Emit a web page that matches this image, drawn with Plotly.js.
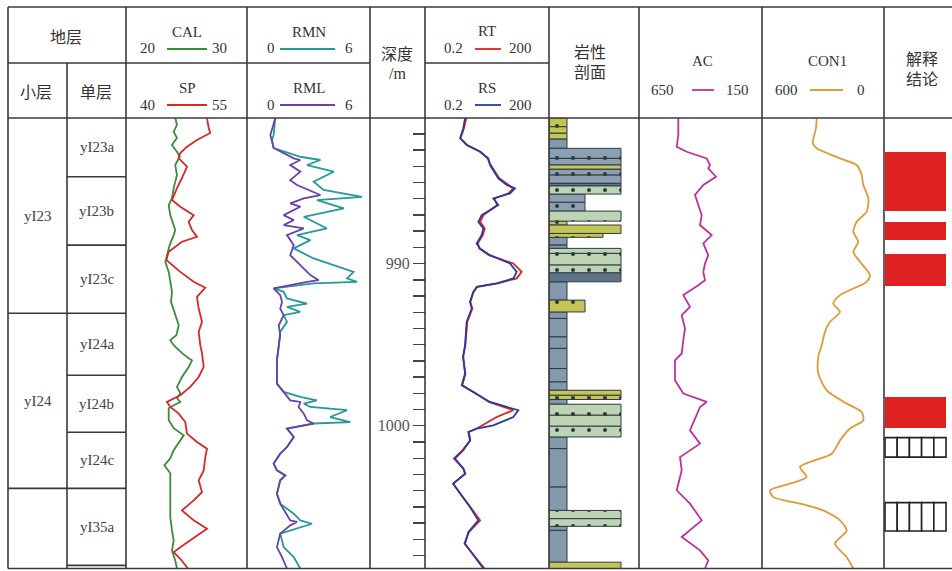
<!DOCTYPE html>
<html><head><meta charset="utf-8">
<script src="https://cdn.plot.ly/plotly-3.0.1.min.js"></script>
<style>html,body{margin:0;padding:0;background:#fff}#chart{width:952px;height:571px}</style>
</head><body><div id="chart"></div>
<script>
// ---------------- DATA ----------------
const calDepth = [981.02,981.45,981.86,982.25,982.69,983.10,983.41,983.92,984.54,985.34,985.96,986.39,987.01,987.62,987.93,988.24,988.86,989.48,989.89,990.51,991.12,991.74,992.36,993.18,993.80,994.41,994.72,995.03,995.52,995.83,995.96,996.37,996.99,997.60,997.99,998.30,998.53,998.73,998.92,999.66,1000.15,1000.59,1000.90,1001.51,1002.01,1002.44,1002.93,1003.78,1004.60,1005.63,1006.45,1007.07,1007.69,1008.30,1008.80];
const calVal = [24.07,24.21,23.94,24.21,23.80,24.21,24.44,24.07,24.21,23.94,23.80,23.53,23.66,23.94,24.07,23.94,23.61,23.39,23.25,23.53,23.66,23.80,23.72,24.07,24.36,24.16,23.66,23.94,24.63,25.18,25.45,25.18,24.63,24.21,24.49,24.21,24.49,23.94,23.53,23.53,23.94,24.77,24.49,23.94,23.66,23.17,23.66,23.66,23.61,23.66,23.80,23.94,23.80,24.07,24.21];

const spDepth = [981.02,981.64,981.94,982.38,982.79,983.18,983.49,984.02,984.72,985.34,986.08,986.49,987.01,987.42,987.93,988.35,988.65,989.27,989.78,990.51,991.12,991.49,992.05,992.77,993.59,994.21,995.03,995.52,996.37,996.99,997.60,998.12,998.53,998.84,999.25,999.77,1000.48,1001.00,1001.41,1001.93,1002.75,1003.36,1004.09,1004.60,1005.22,1005.83,1006.35,1006.76,1007.27,1007.79,1008.20,1008.72,1008.80];
const spVal = [50.04,50.25,50.45,48.80,47.56,46.73,46.53,47.56,46.94,46.32,45.70,46.73,48.39,47.77,48.18,48.80,46.94,45.29,45.00,46.73,48.39,49.83,48.80,49.01,49.42,49.01,49.21,49.42,49.63,49.01,47.97,46.73,45.08,45.49,46.53,47.35,47.56,48.80,50.04,49.83,49.63,49.01,49.42,48.39,46.94,48.39,50.04,48.80,47.35,45.91,46.73,47.56,47.69];

const rmnDepth = [981.02,982.07,982.38,982.87,983.41,983.61,983.92,984.33,984.95,985.46,985.88,986.08,986.59,987.11,987.83,988.24,988.55,989.06,989.68,990.51,990.91,991.12,991.22,991.53,991.74,992.15,992.46,992.67,992.98,993.18,993.59,994.21,995.03,995.96,997.40,997.91,998.22,998.43,998.63,998.84,999.04,999.46,999.77,999.86,1000.17,1000.69,1001.31,1001.72,1002.33,1002.75,1003.06,1003.36,1004.19,1004.80,1005.42,1005.83,1006.04,1006.25,1006.65,1007.48,1008.10,1008.80];
const rmnVal = [1.38,1.30,1.22,1.30,2.60,3.58,2.93,4.23,3.25,3.74,5.61,3.41,4.72,2.77,3.90,2.44,3.09,2.28,3.25,5.20,4.88,5.37,3.25,1.30,1.79,1.95,2.93,1.95,2.60,1.79,1.95,1.62,1.55,1.46,1.46,1.79,2.60,3.41,2.77,3.09,4.88,4.06,5.04,3.25,1.95,2.28,1.95,1.62,1.30,1.46,1.87,1.62,1.46,1.62,2.28,2.60,3.17,2.60,1.62,1.79,2.28,2.60];

const rmlDepth = [981.02,982.07,982.87,983.51,983.61,983.92,984.33,984.85,985.15,985.77,985.98,986.28,986.49,987.01,987.32,987.62,987.83,988.24,988.86,989.48,990.09,990.71,991.02,991.12,991.53,991.94,992.36,992.77,993.18,993.80,994.41,995.03,995.96,997.40,997.91,998.43,998.53,998.84,999.25,999.66,999.86,1000.17,1000.69,1001.31,1001.72,1002.33,1002.75,1003.06,1003.36,1004.19,1004.80,1005.83,1005.93,1006.14,1006.65,1007.48,1008.10,1008.80];
const rmlVal = [1.38,1.14,1.30,2.28,2.60,2.11,2.60,2.11,2.44,3.58,2.77,2.11,2.60,1.79,2.28,1.79,2.77,1.95,2.28,2.11,2.60,3.09,3.50,2.93,1.30,1.62,1.71,1.62,1.79,1.55,1.62,1.55,1.46,1.46,1.79,2.11,2.60,2.52,2.77,2.93,3.25,1.95,2.28,1.95,1.62,1.30,1.46,1.87,1.62,1.46,1.62,2.11,2.44,2.11,1.62,1.46,1.71,1.95];

const resDepth = [981.02,981.65,982.27,982.69,983.10,983.51,983.92,984.23,984.74,985.15,985.36,985.67,985.98,986.39,986.70,987.01,987.42,987.83,988.24,988.75,989.06,989.48,989.99,990.51,990.91,991.22,991.43,991.74,992.36,992.77,993.59,995.03,995.75,996.78,997.50,997.91,998.53,998.84,999.04,999.46,999.97,1000.17,1000.38,1000.90,1001.51,1002.02,1002.64,1002.95,1003.57,1004.18,1005.01,1005.83,1006.56,1007.27,1007.99,1008.80];
const rtVal = [2.0,1.75,1.45,2.1,4.4,6.5,7.8,9.5,12.5,21,27,21,9.5,11.2,7.8,5.2,4.3,5.6,5.0,3.8,4.1,7.0,27.4,43.7,33.1,11.5,3.7,3.0,2.5,2.8,2.1,1.9,1.65,1.9,1.6,3.0,7.0,16,27.4,10.86,5.0,3.6,2.3,2.5,1.6,1.0,1.7,1.9,0.95,1.45,2.5,4.3,2.3,1.8,3.1,5.5];
const rsVal = [1.86,1.69,1.41,2.04,4.28,6.80,7.47,8.98,11.87,18.95,30.1,22.8,8.98,11.87,7.47,4.71,3.90,5.15,4.71,3.56,4.28,7.47,22.8,33.1,27.4,10.86,3.56,2.95,2.45,2.70,2.04,1.86,1.69,1.86,1.55,2.95,7.47,18.95,36.2,27.4,8.98,3.56,2.23,2.45,1.69,1.06,1.69,1.86,0.97,1.41,2.45,3.90,2.23,1.86,2.95,5.15];

const acDepth = [981.02,982.07,982.79,983.10,983.51,983.92,984.12,984.64,985.15,985.77,986.39,987.01,987.62,988.24,988.75,989.48,989.99,990.51,991.02,991.33,991.94,992.67,993.18,994.00,994.72,995.54,995.96,997.19,998.01,998.53,998.84,1000.28,1001.10,1001.93,1002.75,1003.98,1004.80,1005.83,1006.86,1007.68,1008.30,1008.80];
const acVal = [490.2,490.2,496.7,456.1,374.8,361.4,368.3,337.0,388.6,422.4,408.9,395.1,402.0,354.5,388.6,368.3,381.7,388.6,381.7,408.9,469.9,442.7,476.4,463.0,469.9,476.4,503.7,503.7,469.9,374.8,402.0,442.7,402.0,483.3,476.4,496.7,442.7,395.1,476.4,402.0,368.3,381.7];

const conDepth = [981.02,981.65,982.58,982.89,983.51,983.92,984.54,985.15,985.98,986.80,987.42,988.04,988.65,989.27,989.89,990.71,991.12,991.94,992.46,992.98,993.59,994.21,995.03,995.75,996.78,997.81,998.63,999.15,999.66,1000.17,1000.90,1001.72,1002.54,1003.16,1003.57,1003.98,1004.40,1004.80,1005.22,1005.83,1006.45,1007.27,1008.10,1008.80];
const conVal = [331.0,334.4,350.7,331.0,216.4,134.3,109.7,101.8,77.2,85.1,134.3,151.0,126.4,151.0,118.0,68.9,85.1,216.4,249.3,216.4,265.6,290.2,306.4,323.1,323.1,281.8,183.4,109.7,101.8,167.2,216.4,257.2,413.1,380.2,462.3,560.7,544.4,413.1,298.5,216.4,183.4,241.0,183.4,151.0];

// lithology: top depth, lithology code, grain class
const lithTop = [981.02,981.56,981.96,982.31,982.89,983.51,983.92,984.17,984.54,985.05,985.20,985.71,986.22,986.76,987.38,987.62,988.14,988.38,988.86,989.06,989.37,990.09,990.57,991.12,992.25,992.98,993.38,994.52,995.23,996.47,997.30,997.81,998.12,998.38,998.67,999.35,1000.03,1000.69,1001.41,1003.78,1005.22,1005.73,1006.20,1006.45,1008.41];
const lithBottomEnd = 1008.80;
const lithType = ['Y','Y','Y','M','B','B','Y','B','B','D','G','B','B','G','Y','Y','Y','M','M','G','G','G','D','M','Y','M','M','M','M','M','M','Y','Y','M','G','G','G','M','M','M','G','G','M','M','Y'];
const lithGrain = [1,1,1,1,4,4,4,4,4,4,4,2,2,4,1,4,3,1,1,4,4,4,4,1,2,1,1,1,1,1,1,4,4,1,4,4,4,1,1,1,4,4,1,1,4];

// interpretation
const interpTop = [983.10,987.42,989.43,998.22,1000.73,1004.74];
const interpBottom = [986.76,988.55,991.37,1000.11,1001.93,1006.49];
const interpType = ['A','A','A','A','B','B'];

// strata
const subNames = ['yI23','yI24',''];
const subTop = [981.02,993.06,1003.86];
const subBottom = [993.06,1003.86,1008.80];
const unitNames = ['yI23a','yI23b','yI23c','yI24a','yI24b','yI24c','yI35a',''];
const unitTop = [981.02,984.64,988.86,993.06,996.88,1000.40,1003.86,1008.61];
const unitBottom = [984.64,988.86,993.06,996.88,1000.40,1003.86,1008.61,1008.80];

const depthRange = [1008.80, 981.02];

// ---------------- LAYOUT HELPERS ----------------
const W = 952, H = 571;
const px = x => x / W, py = y => 1 - y / H;
const SERIF = '"Liberation Serif", "Times New Roman", serif';
const CJK = '"Liberation Serif", "Noto Sans CJK SC", serif';
const LC = '#3a3a3a';
const col = {
  cal:'#3c8c3c', sp:'#d62828', rmn:'#259a96', rml:'#6a40aa',
  rt:'#e42020', rs:'#2b3a9e', ac:'#c0309c', con:'#e09a38', red:'#de2222'
};
const tr = {cal:[126,247], rmn:[247,370], rt:[425,549], lith:[549,639], ac:[639,762], con:[762,884], interp:[884,952]};
const dom = k => [px(tr[k][0]), px(tr[k][1])];

const hidden = (k, extra) => Object.assign({domain: dom(k), anchor: 'y', visible: false, showgrid: false, zeroline: false, fixedrange: true}, extra);

const traces = [];
const line = (x, y, xa, c, extra) => Object.assign({type:'scatter', mode:'lines', x, y, xaxis:xa, yaxis:'y', line:{color:c, width:1.8}, hoverinfo:'skip', showlegend:false}, extra||{});
traces.push(line(calVal, calDepth, 'x', col.cal));
traces.push(line(spVal, spDepth, 'x2', col.sp));
traces.push(line(rmnVal, rmnDepth, 'x3', col.rmn));
traces.push(line(rmlVal, rmlDepth, 'x4', col.rml));
traces.push(line(rtVal, resDepth, 'x5', col.rt));
traces.push(line(rsVal, resDepth, 'x6', col.rs));
traces.push(line(acVal, acDepth, 'x8', col.ac));
traces.push(line(conVal, conDepth, 'x9', col.con, {line:{color:col.con, width:1.8, shape:'spline', smoothing:0.7}}));

// lithology bars
const lithStyle = {
  M:{c:'#8499ab', dots:false},
  B:{c:'#8ca0b1', dots:true},
  Y:{c:'#c3c654', dots:true},
  G:{c:'#bcd4b3', dots:true},
  D:{c:'#5f7587', dots:true}
};
Object.keys(lithStyle).forEach(t => {
  const ys=[], ws=[], xs=[];
  lithType.forEach((lt,i) => {
    if (lt !== t) return;
    const top = lithTop[i], bot = (i+1 < lithTop.length) ? lithTop[i+1] : lithBottomEnd;
    ys.push((top+bot)/2); ws.push(bot-top); xs.push(lithGrain[i]);
  });
  const st = lithStyle[t];
  const marker = {color: st.c, line:{color:'#2e3a44', width:1}};
  if (st.dots) marker.pattern = {shape:'.', bgcolor: st.c, fgcolor:'#2b3640', size:16, solidity:0.05, fillmode:'replace'};
  traces.push({type:'bar', orientation:'h', x:xs, y:ys, width:ws, base:0, xaxis:'x7', yaxis:'y', marker, hoverinfo:'skip', showlegend:false});
});

// interpretation bars
(function(){
  const ry=[], rw=[];
  const hy=[], hw=[], hb=[], hx=[];
  const start = 0.015, len = 0.897, cells = 5;
  interpType.forEach((t,i) => {
    const mid = (interpTop[i]+interpBottom[i])/2, th = interpBottom[i]-interpTop[i];
    if (t === 'A') { ry.push(mid); rw.push(th); }
    else {
      for (let k=0;k<cells;k++){ hy.push(mid); hw.push(th); hb.push(start + k*len/cells); hx.push(len/cells); }
    }
  });
  traces.push({type:'bar', orientation:'h', x:ry.map(()=>len), y:ry, width:rw, base:start, xaxis:'x10', yaxis:'y', marker:{color:col.red, line:{width:0}}, hoverinfo:'skip', showlegend:false});
  traces.push({type:'bar', orientation:'h', x:hx, y:hy, width:hw, base:hb, xaxis:'x10', yaxis:'y', marker:{color:'#ffffff', line:{color:'#222', width:1.6}}, hoverinfo:'skip', showlegend:false});
})();

// ---------------- SHAPES ----------------
const shapes = [];
const hl = (x0,x1,y,w) => shapes.push({type:'line', xref:'paper', yref:'paper', x0:px(x0), x1:px(x1), y0:py(y), y1:py(y), line:{color:LC, width:w||1.6}});
const vl = (x,y0,y1,w) => shapes.push({type:'line', xref:'paper', yref:'paper', x0:px(x), x1:px(x), y0:py(y0), y1:py(y1), line:{color:LC, width:w||1.6}});
hl(8,952,7); hl(8,370,63); hl(425,549,63); hl(8,952,118); hl(8,952,568.5);
vl(8,7,568.5); vl(67,63,568.5); [126,247,370,425,549,639,762,884].forEach(x=>vl(x,7,568.5));
// strata boundaries (data depth)
const dl = (x0,x1,d) => shapes.push({type:'line', xref:'paper', yref:'y', x0:px(x0), x1:px(x1), y0:d, y1:d, line:{color:LC, width:1.6}});
subTop.slice(1).forEach(d => dl(8,67,d));
unitTop.slice(1).forEach(d => dl(67,126,d));
// legend samples
const ls = (x0,x1,y,c) => shapes.push({type:'line', xref:'paper', yref:'paper', x0:px(x0), x1:px(x1), y0:py(y), y1:py(y), line:{color:c, width:1.8}});
ls(167,207,49,col.cal); ls(167,207,105,col.sp);
ls(280,335,49,col.rmn); ls(280,335,105,col.rml);
ls(475,501,49,col.rt); ls(475,501,105,col.rs);
ls(692,714,90,col.ac); ls(810,843,90,col.con);

// ---------------- ANNOTATIONS ----------------
const ann = [];
const tx = (t,x,y,f,s) => ann.push({text:t, xref:'paper', yref:'paper', x:px(x), y:py(y), xanchor:'center', yanchor:'middle', showarrow:false, font:{family:f||SERIF, size:s||15, color:'#333'}});
tx('地层',66,37,CJK,16); tx('小层',36,93,CJK,16); tx('单层',96,93,CJK,16);
tx('CAL',187,32); tx('20',147,48); tx('30',219,48);
tx('SP',187,88); tx('40',147,105); tx('55',219,105);
tx('RMN',309,32); tx('0',271,48); tx('6',349,48);
tx('RML',309,88); tx('0',271,105); tx('6',349,105);
tx('深度',397,55,CJK,16); tx('/m',397,73,SERIF,16);
tx('RT',487,31); tx('0.2',453,48); tx('200',520,48);
tx('RS',487,88); tx('0.2',453,105); tx('200',520,105);
tx('岩性',590,52,CJK,16); tx('剖面',590,72,CJK,16);
tx('AC',702,61); tx('650',662,90); tx('150',737,90);
tx('CON1',827,61); tx('600',786,90); tx('0',861,90);
tx('解释',922,59,CJK,16); tx('结论',922,79,CJK,16);
subNames.forEach((n,i)=>{ if(n) ann.push({text:n, xref:'paper', yref:'y', x:px(37.5), y:(subTop[i]+subBottom[i])/2, showarrow:false, xanchor:'center', yanchor:'middle', font:{family:SERIF,size:15,color:'#444'}}); });
unitNames.forEach((n,i)=>{ if(n) ann.push({text:n, xref:'paper', yref:'y', x:px(96.5), y:(unitTop[i]+unitBottom[i])/2, showarrow:false, xanchor:'center', yanchor:'middle', font:{family:SERIF,size:15,color:'#444'}}); });

const layout = {
  width: W, height: H, margin:{l:0,r:0,t:0,b:0,pad:0},
  paper_bgcolor:'#ffffff', plot_bgcolor:'rgba(0,0,0,0)',
  showlegend:false, barmode:'overlay', bargap:0,
  yaxis:{domain:[py(568.5), py(118)], range: depthRange, anchor:'free', position: px(425), side:'left',
    showgrid:false, zeroline:false, showline:false, fixedrange:true,
    tickmode:'linear', tick0:990, dtick:10, ticks:'outside', ticklen:12, tickwidth:1.4, tickcolor:'#444',
    tickfont:{family:SERIF, size:16, color:'#555'},
    minor:{dtick:1, tick0:990, ticks:'outside', ticklen:12, tickwidth:1.4, tickcolor:'#444', showgrid:false}},
  xaxis: hidden('cal', {range:[20,30]}),
  xaxis2: hidden('cal', {range:[40,55], overlaying:'x'}),
  xaxis3: hidden('rmn', {range:[0,6]}),
  xaxis4: hidden('rmn', {range:[0,6], overlaying:'x3'}),
  xaxis5: hidden('rt', {type:'log', range:[Math.log10(0.2), Math.log10(200)]}),
  xaxis6: hidden('rt', {type:'log', range:[Math.log10(0.2), Math.log10(200)], overlaying:'x5'}),
  xaxis7: hidden('lith', {range:[0,5]}),
  xaxis8: hidden('ac', {range:[650,150]}),
  xaxis9: hidden('con', {range:[600,0]}),
  xaxis10: hidden('interp', {range:[0,1]}),
  shapes, annotations: ann
};
Plotly.newPlot('chart', traces, layout, {staticPlot:true, displayModeBar:false});
</script></body></html>
